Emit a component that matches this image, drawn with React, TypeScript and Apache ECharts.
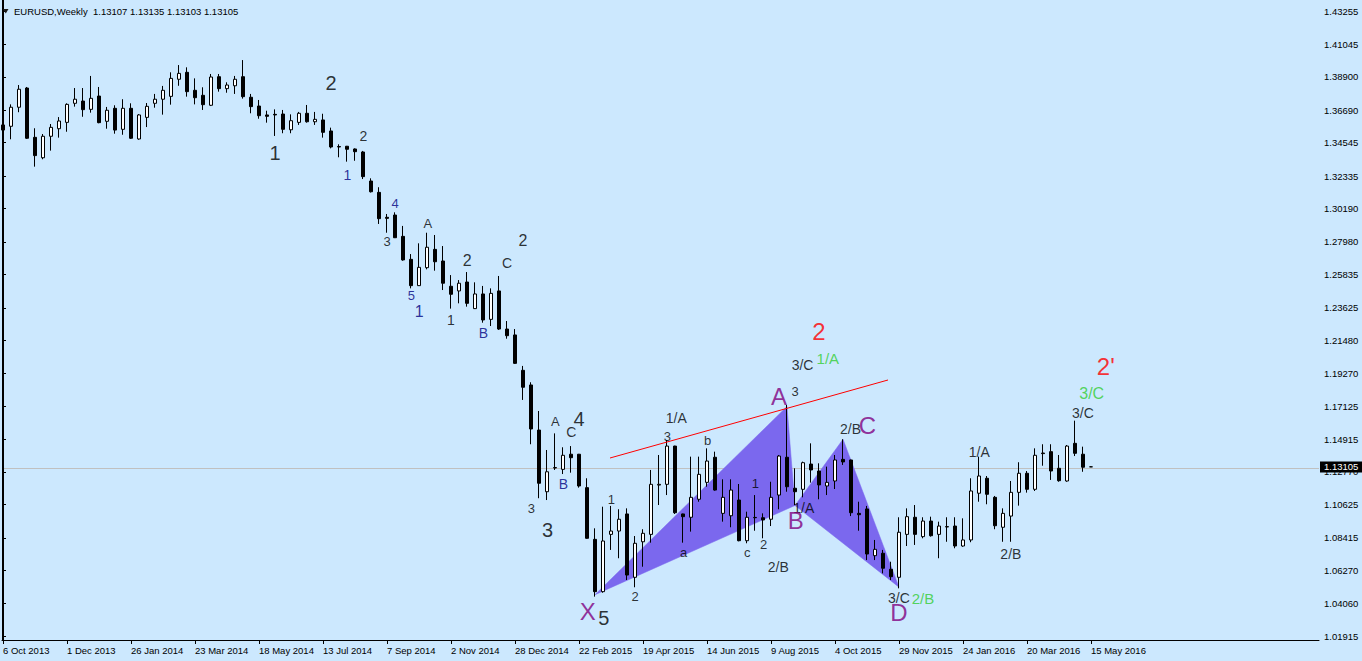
import React, { useEffect, useRef } from "react";
import * as echarts from "echarts";

const FONT = '"Liberation Sans", Arial, Helvetica, sans-serif';
const BG = "#CCE8FE";

// Weekly EURUSD candles, week 0 = 6 Oct 2013
const OPEN = [
  1.3572, 1.3563, 1.3689, 1.3816, 1.349, 1.3355, 1.3497, 1.3547, 1.3589, 1.3715,
  1.373, 1.3675, 1.3763, 1.3596, 1.3682, 1.3543, 1.3682, 1.3479, 1.3622, 1.3715,
  1.3742, 1.3761, 1.3874, 1.392, 1.3801, 1.3768, 1.3702, 1.3891, 1.3812, 1.3831,
  1.3891, 1.3755, 1.3697, 1.3638, 1.3642, 1.3644, 1.354, 1.3589, 1.3649, 1.3593,
  1.3605, 1.3532, 1.3429, 1.3431, 1.3413, 1.3393, 1.3201, 1.3126, 1.2961, 1.2976,
  1.2835, 1.2683, 1.2509, 1.2628, 1.2749, 1.2672, 1.2505, 1.2474, 1.2533, 1.2357,
  1.2454, 1.2286, 1.2474, 1.2222, 1.2183, 1.1949, 1.1852, 1.1554, 1.1146, 1.1303,
  1.1294, 1.1394, 1.1394, 1.1173, 1.0831, 1.0485, 1.0864, 1.0886, 1.0999, 1.058,
  1.0815, 1.0864, 1.119, 1.1195, 1.1448, 1.0999, 1.0977, 1.1096, 1.1208, 1.1374,
  1.1003, 1.0987, 1.1091, 1.0822, 1.0976, 1.0974, 1.0964, 1.1124, 1.1374, 1.1169,
  1.1162, 1.1329, 1.1283, 1.1184, 1.1217, 1.136, 1.1356, 1.1003, 1.1032, 1.0723,
  1.0739, 1.0633, 1.058, 1.0864, 1.0977, 1.0849, 1.0952, 1.0864, 1.0915, 1.0919,
  1.0787, 1.0827, 1.1136, 1.1235, 1.1109, 1.0911, 1.0985, 1.1142, 1.1268, 1.1162,
  1.1402, 1.1411, 1.1301, 1.1217, 1.1466, 1.1394, 1.13107,
];
const HIGH = [
  1.3611, 1.3708, 1.3836, 1.3823, 1.355, 1.3512, 1.3578, 1.3624, 1.3715, 1.3816,
  1.3816, 1.3896, 1.3823, 1.3691, 1.3702, 1.3742, 1.3715, 1.3644, 1.3717, 1.3777,
  1.383, 1.392, 1.3968, 1.3953, 1.388, 1.3821, 1.3909, 1.3909, 1.3854, 1.3896,
  1.4001, 1.3777, 1.3737, 1.3666, 1.3675, 1.3671, 1.3642, 1.3658, 1.3704, 1.3658,
  1.3646, 1.3554, 1.3444, 1.3433, 1.3417, 1.34, 1.3219, 1.316, 1.2983, 1.2994,
  1.2904, 1.2718, 1.2789, 1.2859, 1.2844, 1.2771, 1.2579, 1.2546, 1.2599, 1.2531,
  1.2507, 1.2491, 1.2573, 1.2275, 1.2222, 1.1978, 1.187, 1.168, 1.1422, 1.1532,
  1.144, 1.1448, 1.1396, 1.1235, 1.0904, 1.1047, 1.1052, 1.103, 1.1036, 1.0853,
  1.0898, 1.129, 1.1389, 1.1488, 1.145, 1.1001, 1.1378, 1.1378, 1.1433, 1.1411,
  1.1228, 1.1228, 1.1197, 1.1014, 1.1124, 1.1003, 1.1212, 1.1389, 1.172, 1.1301,
  1.1345, 1.1466, 1.1334, 1.1312, 1.1389, 1.1493, 1.1358, 1.108, 1.1052, 1.0827,
  1.0761, 1.0683, 1.0977, 1.1036, 1.1058, 1.0977, 1.0981, 1.0948, 1.0977, 1.0977,
  1.097, 1.1235, 1.1378, 1.125, 1.1118, 1.1036, 1.1217, 1.1341, 1.1283, 1.1433,
  1.146, 1.146, 1.1389, 1.1455, 1.1616, 1.1444, 1.13135,
];
const LOW = [
  1.3486, 1.3477, 1.3656, 1.3479, 1.3296, 1.3345, 1.3402, 1.3488, 1.3527, 1.3693,
  1.3626, 1.3653, 1.3583, 1.3547, 1.3514, 1.3507, 1.3479, 1.3474, 1.3558, 1.3686,
  1.364, 1.3706, 1.3831, 1.3759, 1.3708, 1.3671, 1.3697, 1.3792, 1.3785, 1.3777,
  1.3746, 1.3649, 1.3613, 1.3587, 1.3499, 1.3517, 1.3517, 1.3572, 1.3587, 1.3572,
  1.3488, 1.3417, 1.3358, 1.3329, 1.3335, 1.3214, 1.3125, 1.2917, 1.2859, 1.2824,
  1.2674, 1.2491, 1.2507, 1.2617, 1.2608, 1.248, 1.2357, 1.2392, 1.237, 1.2355,
  1.2264, 1.2242, 1.2216, 1.2158, 1.1991, 1.1753, 1.146, 1.1103, 1.1091, 1.129,
  1.1263, 1.1272, 1.1173, 1.0835, 1.0452, 1.0478, 1.0761, 1.0706, 1.0562, 1.0514,
  1.065, 1.0809, 1.1058, 1.1124, 1.0999, 1.0809, 1.0882, 1.108, 1.1179, 1.1153,
  1.0948, 1.0911, 1.0818, 1.0805, 1.0888, 1.0838, 1.0919, 1.103, 1.1146, 1.1058,
  1.1109, 1.1206, 1.1096, 1.1124, 1.1164, 1.1323, 1.0985, 1.0888, 1.0694, 1.0694,
  1.0606, 1.0562, 1.0507, 1.0787, 1.0794, 1.0838, 1.0849, 1.0706, 1.0815, 1.0772,
  1.0782, 1.0812, 1.108, 1.1063, 1.0898, 1.0815, 1.0815, 1.1054, 1.114, 1.1151,
  1.1318, 1.1224, 1.1212, 1.1212, 1.1382, 1.1278, 1.13103,
];
const CLOSE = [
  1.3538, 1.3689, 1.3808, 1.3484, 1.3369, 1.3497, 1.3556, 1.3598, 1.3708, 1.3742,
  1.3673, 1.3748, 1.3587, 1.3669, 1.3538, 1.3682, 1.3484, 1.3638, 1.3695, 1.3742,
  1.3801, 1.388, 1.3913, 1.3792, 1.3752, 1.3706, 1.3889, 1.3812, 1.3836, 1.3874,
  1.3759, 1.3693, 1.3633, 1.3629, 1.3638, 1.3543, 1.36, 1.3649, 1.3593, 1.3609,
  1.3523, 1.3426, 1.3426, 1.3411, 1.3395, 1.323, 1.313, 1.2952, 1.2954, 1.2826,
  1.2679, 1.2509, 1.263, 1.2763, 1.2667, 1.2525, 1.2452, 1.2525, 1.2392, 1.2454,
  1.2282, 1.2458, 1.2222, 1.2178, 1.1995, 1.1837, 1.1561, 1.1202, 1.1278, 1.1306,
  1.1387, 1.1371, 1.1184, 1.0838, 1.0485, 1.082, 1.0886, 1.0964, 1.0595, 1.0805,
  1.0871, 1.1195, 1.1195, 1.1448, 1.1007, 1.0981, 1.1109, 1.1261, 1.1349, 1.1157,
  1.1109, 1.1157, 1.0822, 1.0977, 1.0974, 1.0959, 1.1109, 1.1382, 1.1179, 1.1146,
  1.1338, 1.129, 1.1191, 1.1208, 1.1356, 1.1343, 1.1007, 1.0994, 1.0734, 1.0765,
  1.064, 1.0584, 1.0878, 1.0981, 1.0864, 1.0952, 1.0855, 1.0919, 1.0913, 1.0787,
  1.0827, 1.1151, 1.125, 1.1129, 1.0921, 1.1003, 1.1142, 1.1268, 1.1162, 1.1387,
  1.1398, 1.1283, 1.1219, 1.1448, 1.14, 1.1308, 1.13105,
];

const Y_TICKS = [
  1.43255, 1.41045, 1.389, 1.3669, 1.34545, 1.32335, 1.3019, 1.2798, 1.25835, 1.23625,
  1.2148, 1.1927, 1.17125, 1.14915, 1.1277, 1.10625, 1.08415, 1.0627, 1.0406, 1.01915,
];
const X_TICK_WEEKS = [0, 8, 16, 24, 32, 40, 48, 56, 64, 72, 80, 88, 96, 104, 112, 120, 128, 136];
const X_LABELS = [
  "6 Oct 2013", "1 Dec 2013", "26 Jan 2014", "23 Mar 2014", "18 May 2014", "13 Jul 2014",
  "7 Sep 2014", "2 Nov 2014", "28 Dec 2014", "22 Feb 2015", "19 Apr 2015", "14 Jun 2015",
  "9 Aug 2015", "4 Oct 2015", "29 Nov 2015", "24 Jan 2016", "20 Mar 2016", "15 May 2016",
];

const LAST_PRICE = 1.13105;
const HEADER = "EURUSD,Weekly  1.13107 1.13135 1.13103 1.13105";

// Wave labels: [text, week index, price]
type Ann = [string, number, number];
const WAVE_BLACK_LARGE: Ann[] = [
  ["1", 34.0, 1.3386], ["2", 41.0, 1.3849], ["3", 68.06, 1.0893], ["4", 72.0, 1.1627], ["5", 75.1, 1.0309],
];
const WAVE_BLACK_MEDIUM: Ann[] = [["2", 58.03, 1.2673], ["2", 65.0, 1.2806]];
const WAVE_BLACK: Ann[] = [
  ["2", 45.04, 1.3499], ["1", 56.0, 1.2279], ["C", 63.0, 1.2657], ["C", 71.04, 1.1543],
  ["1/A", 84.15, 1.1632], ["2/B", 96.9, 1.065], ["3/C", 99.94, 1.1987], ["1/A", 100.1, 1.104],
  ["2/B", 105.94, 1.1559], ["3/C", 111.98, 1.0443], ["1/A", 122.04, 1.1409], ["2/B", 125.98, 1.0736],
  ["3/C", 134.98, 1.1667],
];
const WAVE_BLACK_SMALL: Ann[] = [
  ["3", 48.0, 1.2798], ["A", 53.1, 1.2917], ["A", 69.04, 1.1612], ["3", 66.03, 1.1034],
  ["3", 83.06, 1.151], ["b", 88.09, 1.1483], ["1", 76.06, 1.1095], ["2", 79.0, 1.0452],
  ["a", 85.09, 1.0741], ["c", 93.03, 1.0741], ["2", 95.09, 1.0798], ["1", 94.06, 1.1198],
  ["3", 99.0, 1.1806],
];
const WAVE_NAVY_SMALL: Ann[] = [["4", 49.0, 1.3054], ["5", 51.04, 1.2444]];
const WAVE_NAVY: Ann[] = [["1", 43.06, 1.3243], ["B", 60.04, 1.2196], ["B", 70.06, 1.1195]];
const WAVE_NAVY_MEDIUM: Ann[] = [["1", 52.04, 1.2335]];
const PATTERN_POINTS: Ann[] = [
  ["X", 73.1, 1.0355], ["A", 97.0, 1.1779], ["B", 99.1, 1.0957], ["C", 108.06, 1.1587], ["D", 112.0, 1.0344],
];
const WAVE_RED: Ann[] = [["2", 102.0, 1.2206], ["2'", 137.85, 1.1971]];
const WAVE_GREEN: Ann[] = [["1/A", 103.1, 1.2024], ["2/B", 115.0, 1.0442]];
const WAVE_GREEN_MEDIUM: Ann[] = [["3/C", 136.09, 1.1797]];

// Harmonic XABCD pattern: two filled triangles (week index, price)
const TRIANGLE_XAB: [number, number][] = [[74, 1.0465], [98, 1.171], [99, 1.1055]];
const TRIANGLE_BCD: [number, number][] = [[99, 1.1055], [105, 1.1493], [112, 1.0515]];
const TREND_LINE: [number, number][] = [[75.875, 1.1369], [110.625, 1.1885]];

const X_MIN = -0.125;
const X_MAX = 164.5;
const Y_MIN = 1.01653;
const Y_MAX = 1.43983;

function labelSeries(items: Ann[], color: string, size: number) {
  return {
    type: "scatter",
    symbolSize: 1,
    silent: true,
    z: 10,
    clip: false,
    itemStyle: { color: "rgba(0,0,0,0)" },
    data: items.map(([t, i, p]) => ({ value: [i, p], name: t })),
    label: {
      show: true,
      position: "inside",
      formatter: (pr: any) => pr.name,
      color,
      fontSize: size,
      fontFamily: FONT,
      textBorderWidth: 0,
    },
  };
}

export default function App() {
  const ref = useRef<HTMLDivElement>(null);
  useEffect(() => {
    document.body.style.margin = "0";
    document.body.style.background = BG;
    const chart = echarts.init(ref.current!, null, { renderer: "svg" });
    const triangles = [TRIANGLE_XAB, TRIANGLE_BCD];
    const option: any = {
      animation: false,
      backgroundColor: BG,
      grid: { left: 2, right: 43, top: 0, bottom: 21, containLabel: false },
      dataset: {
        dimensions: ["week", "open", "close", "low", "high"],
        source: OPEN.map((o, i) => [i, o, CLOSE[i], LOW[i], HIGH[i]]),
      },
      xAxis: {
        type: "value",
        min: X_MIN,
        max: X_MAX,
        axisLine: { show: true, onZero: false, lineStyle: { color: "#000", width: 1 } },
        axisTick: { show: true, length: 4, customValues: X_TICK_WEEKS, lineStyle: { color: "#000" } },
        axisLabel: {
          customValues: X_TICK_WEEKS,
          formatter: (v: number) => X_LABELS[Math.round(v / 8)],
          align: "left",
          color: "#000",
          fontSize: 9.5,
          fontFamily: FONT,
          margin: 5,
        },
        splitLine: { show: false },
      },
      yAxis: {
        type: "value",
        position: "right",
        min: Y_MIN,
        max: Y_MAX,
        axisLine: { show: true, lineStyle: { color: "#000", width: 1 } },
        axisTick: { show: true, length: 3, customValues: Y_TICKS, lineStyle: { color: "#000" } },
        axisLabel: {
          customValues: Y_TICKS,
          formatter: (v: number) => v.toFixed(5),
          color: "#000",
          fontSize: 9.5,
          fontFamily: FONT,
          margin: 5,
        },
        splitLine: { show: false },
      },
      series: [
        {
          type: "custom",
          z: 1,
          silent: true,
          data: triangles.map((t) => [t[0][0], t[0][1]]),
          renderItem: (params: any, api: any) => {
            const tri = triangles[params.dataIndex];
            return {
              type: "polygon",
              shape: { points: tri.map((pt) => api.coord(pt)) },
              style: { fill: "#7B68EE", stroke: "#7B68EE", lineWidth: 0.5 },
            };
          },
        },
        {
          type: "candlestick",
          z: 3,
          barWidth: 4,
          encode: { x: 0, y: [1, 2, 3, 4] },
          itemStyle: {
            color: "#FFFFFF",
            color0: "#000000",
            borderColor: "#000000",
            borderColor0: "#000000",
            borderWidth: 1,
          },
          markLine: {
            silent: true,
            z: 0,
            symbol: ["none", "none"],
            label: { show: false },
            lineStyle: { color: "#C0C0C0", width: 1, type: "solid" },
            data: [{ yAxis: LAST_PRICE }],
          },
        },
        {
          type: "line",
          z: 4,
          silent: true,
          symbol: "none",
          data: TREND_LINE,
          lineStyle: { color: "#FF0000", width: 1 },
        },
        labelSeries(WAVE_BLACK_LARGE, "#000000", 20),
        labelSeries(WAVE_BLACK_MEDIUM, "#000000", 16),
        labelSeries(WAVE_BLACK, "#000000", 14),
        labelSeries(WAVE_BLACK_SMALL, "#000000", 13),
        labelSeries(WAVE_NAVY_SMALL, "#000080", 13),
        labelSeries(WAVE_NAVY, "#000080", 14),
        labelSeries(WAVE_NAVY_MEDIUM, "#000080", 16),
        labelSeries(PATTERN_POINTS, "#800080", 24),
        labelSeries(WAVE_RED, "#FF0000", 24),
        labelSeries(WAVE_GREEN, "#32CD32", 15),
        labelSeries(WAVE_GREEN_MEDIUM, "#32CD32", 16),
      ],
    };
    chart.setOption(option);
    const yp = chart.convertToPixel({ yAxisIndex: 0 }, LAST_PRICE) as number;
    chart.setOption({
      graphic: {
        elements: [
          {
            type: "line",
            z: 50,
            shape: { x1: 2.5, y1: 0, x2: 2.5, y2: 640 },
            style: { stroke: "#000", lineWidth: 1 },
          },
          {
            type: "polygon",
            z: 50,
            shape: { points: [[3, 9], [8.5, 9], [5.75, 13.5]] },
            style: { fill: "#1a1a1a" },
          },
          {
            type: "text",
            z: 50,
            x: 14,
            y: 11,
            style: { text: HEADER, fontSize: 9.5, fontFamily: FONT, fill: "#000", verticalAlign: "middle" },
          },
          {
            type: "rect",
            z: 100,
            shape: { x: 1320, y: Math.round(yp) - 5.5, width: 42, height: 11 },
            style: { fill: "#000" },
          },
          {
            type: "text",
            z: 101,
            x: 1324,
            y: yp,
            style: {
              text: LAST_PRICE.toFixed(5),
              fontSize: 9.5,
              fontFamily: FONT,
              fill: "#fff",
              verticalAlign: "middle",
            },
          },
        ],
      },
    });
    return () => chart.dispose();
  }, []);
  return <div ref={ref} style={{ width: 1362, height: 661 }} />;
}
